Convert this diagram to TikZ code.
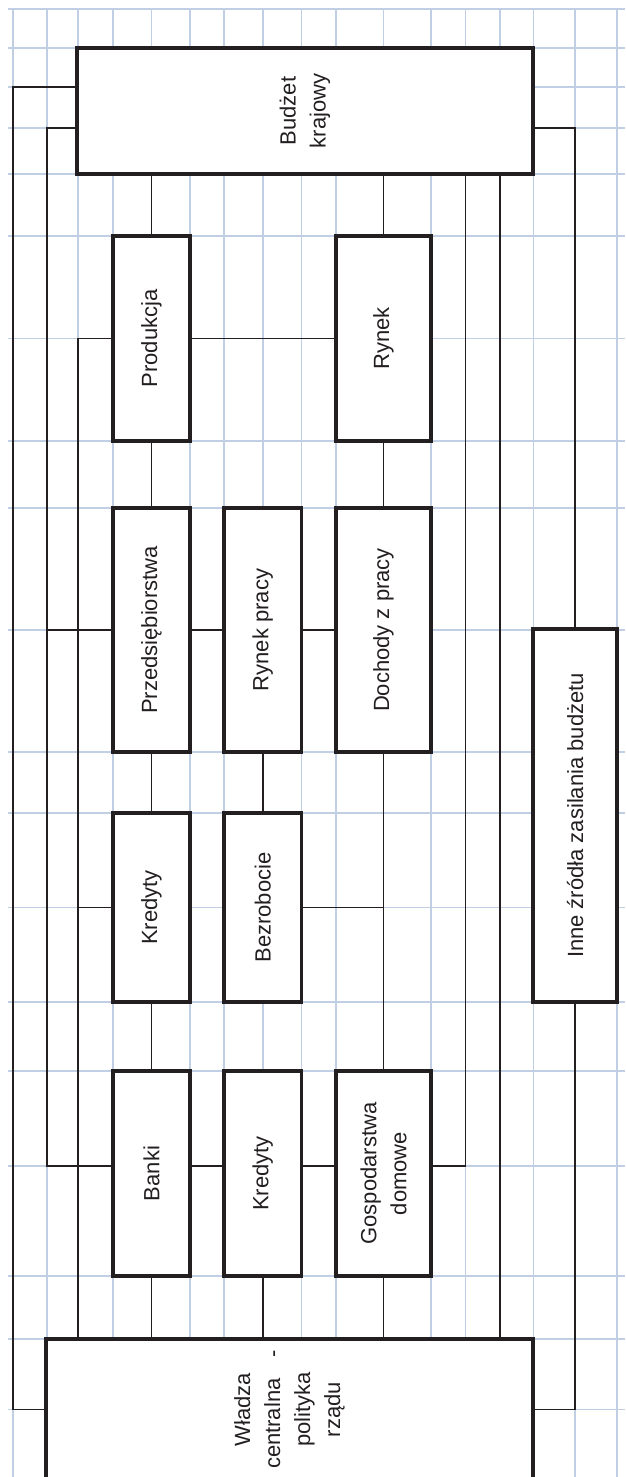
\documentclass[tikz,border=0pt]{standalone}
\usepackage{fontspec}
\setmainfont{Liberation Sans}
\usetikzlibrary{backgrounds,calc}
\definecolor{gridc}{RGB}{192,207,228}
\definecolor{ink}{RGB}{35,31,32}
\begin{document}
\begin{tikzpicture}[x=1pt,y=-1pt,
  gridline/.style={draw=gridc,line width=1.5pt},
  conn/.style={draw=ink,line width=1.7pt},
  box/.style={draw=ink,fill=white,line width=3.3pt,rectangle,inner sep=0pt,outer sep=0pt},
  lbl/.style={rotate=90,text=ink,font=\fontsize{22}{30}\selectfont,align=center,inner sep=0pt}]
\useasboundingbox (0,0) rectangle (625,1477);

% boxes
\node[box,minimum width=456,minimum height=126] (bud) at (305,111) {};
\node[box,minimum width=77,minimum height=205] (prod) at (151.5,338.5) {};
\node[box,minimum width=95,minimum height=205] (rynek) at (383.5,338.5) {};
\node[box,minimum width=77,minimum height=244] (przeds) at (151.5,630) {};
\node[box,minimum width=77.5,minimum height=244] (rprac) at (262.75,630) {};
\node[box,minimum width=95,minimum height=244] (doch) at (383.5,630) {};
\node[box,minimum width=77,minimum height=189] (kred1) at (151.5,907.5) {};
\node[box,minimum width=77.5,minimum height=189] (bezr) at (262.75,907.5) {};
\node[box,minimum width=84,minimum height=373] (inne) at (575,815.5) {};
\node[box,minimum width=77,minimum height=205] (banki) at (151.5,1173.5) {};
\node[box,minimum width=77.5,minimum height=205] (kred2) at (262.75,1173.5) {};
\node[box,minimum width=95,minimum height=205] (gosp) at (383.5,1173.5) {};
\node[box,minimum width=487,minimum height=141] (wl) at (289.5,1409.5) {};

% labels
\node[lbl] (bud-t) at (bud) {Budżet\\krajowy};
\node[lbl] (prod-t) at (prod) {Produkcja};
\node[lbl] (rynek-t) at (rynek) {Rynek};
\node[lbl] (przeds-t) at (przeds) {Przedsiębiorstwa};
\node[lbl] (rprac-t) at (rprac) {Rynek pracy};
\node[lbl] (doch-t) at (doch) {Dochody z pracy};
\node[lbl] (kred1-t) at (kred1) {Kredyty};
\node[lbl] (bezr-t) at (bezr) {Bezrobocie};
\node[lbl] (inne-t) at (inne) {Inne źródła zasilania budżetu};
\node[lbl] (banki-t) at (banki) {Banki};
\node[lbl] (kred2-t) at (kred2) {Kredyty};
\node[lbl] (gosp-t) at (gosp) {Gospodarstwa\\domowe};
\node[lbl] (wl-t) at (wl) {Władza\\centralna\hspace{21pt}-\\polityka\\rządu};

% bend points
\coordinate (L1a) at (13,87);
\coordinate (L1b) at (13,1409.5);
\coordinate (L2a) at (47,128);
\coordinate (L2b) at (47,1166);
\coordinate (L3) at (78,0);
\coordinate (R4) at (0,1166);
\coordinate (L4) at (465.5,1166);
\coordinate (L5) at (500,0);
\coordinate (L6) at (0,128);

\begin{scope}[on background layer]
  \foreach \x in {13,47,78,113,151.5,190,224,262.75,301.5,336,383.5,431,465.5,500,533.5,575,617}
    \draw[gridline] (\x,9) -- (\x,1477);
  \foreach \y in {9,48,87,128,174,236,338.5,441,508,630,752,813,907.5,1002,1071,1166,1276,1339,1409.5}
    \draw[gridline] (8,\y) -- (625,\y);

  % left buses
  \draw[conn] (bud.west |- L1a) -- (L1a) -- (L1b) -- (wl.west |- L1b);
  \draw[conn] (bud.west |- L2a) -- (L2a) -- (L2b) -- (banki.west |- L2b);
  \draw[conn] (L2a |- przeds.west) -- (przeds.west);
  \draw[conn] (prod.west) -- (L3 |- prod.west) -- (L3 |- wl.north);
  \draw[conn] (L3 |- kred1.west) -- (kred1.west);

  % column 1
  \draw[conn] (prod.north |- bud.south) -- (prod.north);
  \draw[conn] (prod.south) -- (przeds.north);
  \draw[conn] (przeds.south) -- (kred1.north);
  \draw[conn] (kred1.south) -- (banki.north);
  \draw[conn] (banki.south) -- (banki.south |- wl.north);

  % column 2
  \draw[conn] (rprac.south) -- (bezr.north);
  \draw[conn] (kred2.south) -- (kred2.south |- wl.north);

  % column 3
  \draw[conn] (rynek.north |- bud.south) -- (rynek.north);
  \draw[conn] (rynek.south) -- (doch.north);
  \draw[conn] (doch.south) -- (gosp.north);
  \draw[conn] (gosp.south) -- (gosp.south |- wl.north);
  \draw[conn] (bezr.east) -- (bezr.east -| doch.south);

  % horizontal links
  \draw[conn] (prod.east) -- (rynek.west);
  \draw[conn] (przeds.east) -- (rprac.west);
  \draw[conn] (rprac.east) -- (doch.west);
  \draw[conn] (banki.east |- R4) -- (kred2.west |- R4);
  \draw[conn] (kred2.east |- R4) -- (gosp.west |- R4);

  % right buses
  \draw[conn] (gosp.east |- L4) -- (L4) -- (L4 |- bud.south);
  \draw[conn] (L5 |- bud.south) -- (L5 |- wl.north);
  \draw[conn] (bud.east |- L6) -- (inne.north |- L6) -- (inne.north);
  \draw[conn] (inne.south) -- (inne.south |- wl.east) -- (wl.east);
\end{scope}
\end{tikzpicture}
\end{document}
